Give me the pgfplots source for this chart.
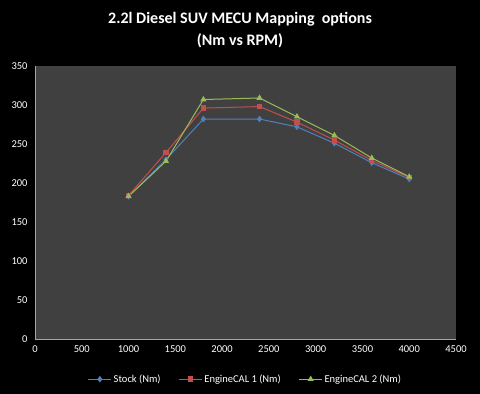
\documentclass[border=0pt]{standalone}
\usepackage{pgfplots}
\pgfplotsset{compat=1.18}
\usepackage{fontspec}
\setmainfont{Carlito}
\definecolor{plotbg}{HTML}{404040}
\definecolor{sblue}{HTML}{4F81BD}
\definecolor{sred}{HTML}{C0504D}
\definecolor{sgreen}{HTML}{9BBB59}
\begin{document}
\begin{tikzpicture}[x=1pt,y=1pt]
\fill[black] (-35,-55) rectangle (445,339);
\begin{axis}[
  at={(0,0)}, anchor=south west,
  scale only axis, width=421pt, height=273pt,
  xmin=0, xmax=4500, ymin=0, ymax=350,
  xtick={0,500,...,4500}, ytick={0,50,...,350},
  axis background/.style={fill=plotbg},
  axis line style={draw=gray!70},
  axis x line*=bottom, axis y line*=left,
  major tick length=0pt,
  ticklabel style={font=\fontsize{10.5}{12}\selectfont, text=white},
  /pgf/number format/assume math mode=true,
  /pgf/number format/1000 sep={},
  xticklabel style={yshift=-3pt},
  yticklabel style={xshift=-4pt},
  legend style={at={(0.5,-0.115)}, anchor=north, draw=none, fill=black,
    text=white, font=\fontsize{10.5}{12}\selectfont, legend columns=-1,
    /tikz/every even column/.append style={column sep=16pt}},
  legend image code/.code={%
    \draw[mark repeat=2,mark phase=2] plot coordinates {(0cm,0cm) (0.4cm,0cm) (0.8cm,0cm)};},
]
\addplot[sblue, line width=1pt, mark=diamond*, mark size=2.5pt, mark options={fill=sblue}]
 coordinates {(1000,183) (1400,230) (1800,282) (2400,282) (2800,272) (3200,251) (3600,226) (4000,205)};
\addlegendentry{Stock (Nm)}
\addplot[sred, line width=1pt, mark=square*, mark size=2.2pt, mark options={fill=sred}]
 coordinates {(1000,184) (1400,239) (1800,296) (2400,298) (2800,278) (3200,255) (3600,229) (4000,207)};
\addlegendentry{EngineCAL 1 (Nm)}
\addplot[sgreen, line width=1pt, mark=triangle*, mark size=2.6pt, mark options={fill=sgreen}]
 coordinates {(1000,183) (1400,228) (1800,307) (2400,309) (2800,285) (3200,261) (3600,232) (4000,208)};
\addlegendentry{EngineCAL 2 (Nm)}
\end{axis}
\node[text=white, font=\fontsize{16}{22}\selectfont\bfseries, align=center] at (205,309)
 {2.2l Diesel SUV MECU Mapping\ \ options\\(Nm vs RPM)};
\end{tikzpicture}
\end{document}
